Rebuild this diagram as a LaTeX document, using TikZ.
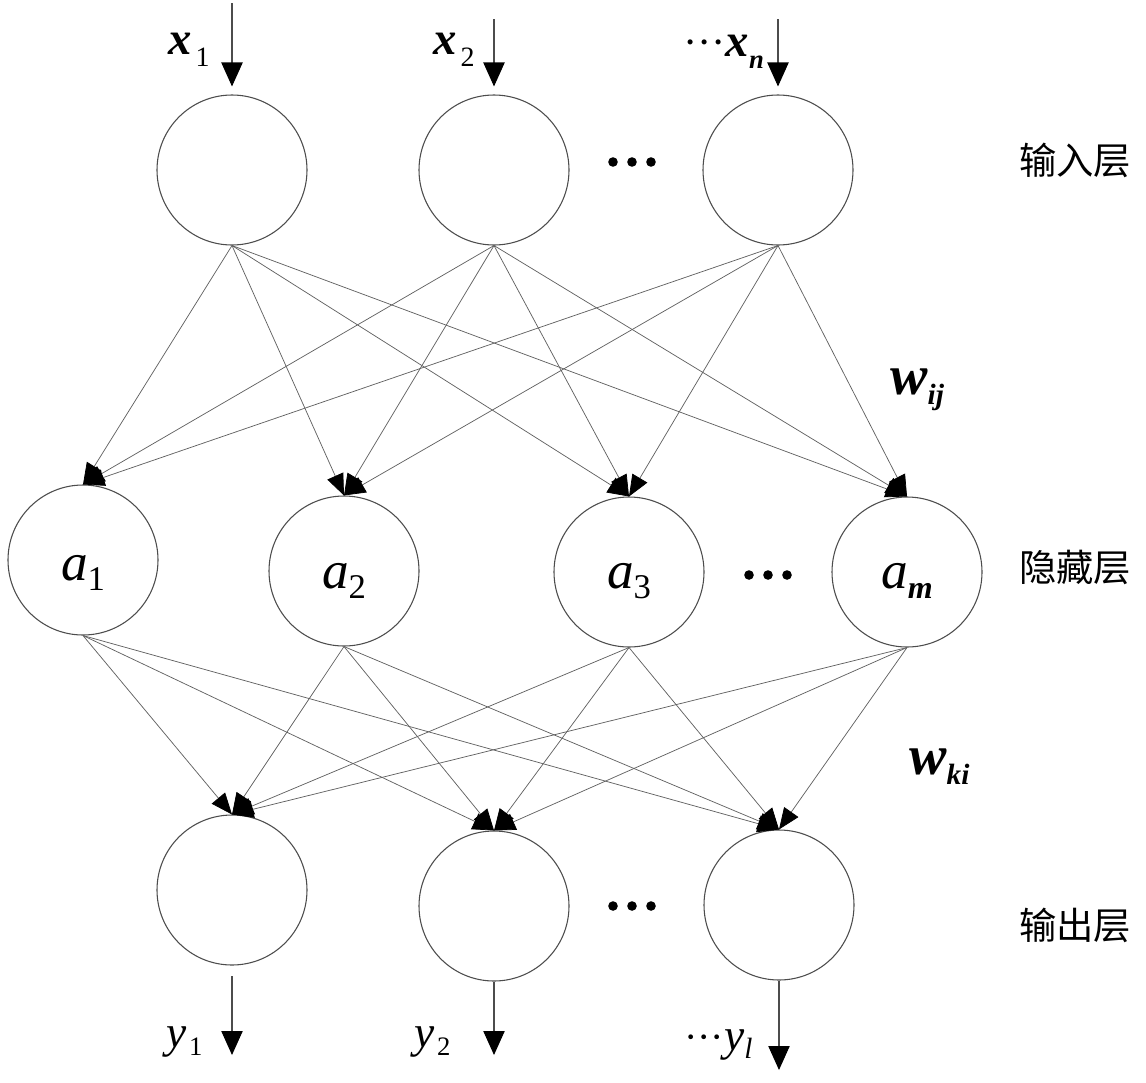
\documentclass[tikz,border=0pt]{standalone}
\usepackage{fontspec}
\setmainfont{Liberation Serif}
\newfontfamily\tms{Liberation Serif}
\newfontfamily\cjk{Noto Sans CJK SC}
\usetikzlibrary{arrows.meta}
\newcommand\bigit[1][36pt]{\tms\fontsize{#1}{#1}\selectfont\itshape}
\newcommand\bigbit[1][36pt]{\tms\fontsize{#1}{#1}\selectfont\bfseries\itshape}
\newcommand\subsz[1]{\tms\fontsize{#1}{#1}\selectfont}
\begin{document}
\begin{tikzpicture}[x=0.75pt,y=-0.75pt,
  neuron/.style={circle, draw=black!70, line width=0.8pt, minimum size=112.5pt, inner sep=0pt},
  conn/.style={draw=black!62, line width=0.55pt, -{Triangle[length=16pt,width=13pt,color=black]}},
  io/.style={draw=black!70, line width=0.8pt, -{Triangle[length=18pt,width=16pt,color=black]}},
  lbl/.style={inner sep=0pt, anchor=base west},
  albl/.style={inner sep=0pt, anchor=base},
  layer/.style={inner sep=0pt, font=\cjk\fontsize{28pt}{28pt}\selectfont},
  dot/.style={fill=black}
]
\useasboundingbox (0,0) rectangle (1146,1082);

% input layer
\node[neuron] (i1) at (232,170) {};
\node[neuron] (i2) at (494,170) {};
\node[neuron] (i3) at (778,170) {};
% hidden layer
\node[neuron] (h1) at (83,560) {};
\node[neuron] (h2) at (344,571) {};
\node[neuron] (h3) at (629,572) {};
\node[neuron] (h4) at (907,572) {};
% output layer
\node[neuron] (o1) at (232,890) {};
\node[neuron] (o2) at (494,906) {};
\node[neuron] (o3) at (779,905) {};

% weights input -> hidden
\foreach \i in {i1,i2,i3}
  \foreach \h in {h1,h2,h3,h4}
    \draw[conn] (\i.south) -- (\h.north);
% weights hidden -> output
\foreach \h in {h1,h2,h3,h4}
  \foreach \o in {o1,o2,o3}
    \draw[conn] (\h.south) -- (\o.north);

% input arrows
\coordinate (x1s) at (232,3);
\coordinate (x2s) at (494,19);
\coordinate (x3s) at (778,19);
\draw[io, shorten >=6pt] (x1s) -- (i1.north);
\draw[io, shorten >=6pt] (x2s) -- (i2.north);
\draw[io, shorten >=6pt] (x3s) -- (i3.north);

% output arrows
\coordinate (y1e) at (232,1055);
\coordinate (y2e) at (494,1055);
\coordinate (y3e) at (779,1070);
\draw[io, shorten <=8pt] (o1.south) -- (y1e);
\draw[io] (o2.south) -- (y2e);
\draw[io] (o3.south) -- (y3e);

% input labels
\node[lbl] (lx1) at (168,54) {\bigbit[35pt]x\kern3pt\raisebox{-9pt}{\subsz{21pt}\mdseries\upshape 1}};
\node[lbl] (lx2) at (433,54) {\bigbit[35pt]x\kern3pt\raisebox{-9pt}{\subsz{21pt}\mdseries\upshape 2}};
\node[lbl] (lx3) at (683,56) {{\bigit[32pt]\upshape\textperiodcentered\textperiodcentered\textperiodcentered}{\bigbit[35pt]x}\raisebox{-9pt}{\subsz{20pt}\bfseries\itshape n}};

% hidden labels
\node[albl] (la1) at (83,580) {\bigit[40pt]a\raisebox{-8pt}{\subsz{26pt}\upshape 1}};
\node[albl] (la2) at (344,588) {\bigit[40pt]a\raisebox{-8pt}{\subsz{26pt}\upshape 2}};
\node[albl] (la3) at (629,588) {\bigit[40pt]a\raisebox{-8pt}{\subsz{26pt}\upshape 3}};
\node[albl] (la4) at (907,588) {\bigit[40pt]a\raisebox{-8pt}{\subsz{24pt}\bfseries\itshape m}};

% output labels
\node[lbl] (ly1) at (166,1047) {\bigit[34pt]y\kern2pt\raisebox{-6pt}{\subsz{20pt}\upshape 1}};
\node[lbl] (ly2) at (414,1047) {\bigit[34pt]y\kern2pt\raisebox{-6pt}{\subsz{20pt}\upshape 2}};
\node[lbl] (ly3) at (684,1050) {{\bigit[30pt]\upshape\textperiodcentered\textperiodcentered\textperiodcentered}{\bigit[34pt]y}\raisebox{-6pt}{\subsz{22pt}\itshape l}};

% weight labels
\node[lbl] (wij) at (890,394) {\bigbit[42pt]w\raisebox{-8pt}{\subsz{22pt}\bfseries\itshape ij}};
\node[lbl] (wki) at (909,774) {\bigbit[42pt]w\raisebox{-8pt}{\subsz{22pt}\bfseries\itshape ki}};

% ellipsis dots
\foreach \xx in {613,632,651} \fill[dot] (\xx,162) circle[radius=3.6pt];
\foreach \xx in {749,768,787} \fill[dot] (\xx,575) circle[radius=3.6pt];
\foreach \xx in {613,632,651} \fill[dot] (\xx,906) circle[radius=3.6pt];

% layer labels
\node[layer] (L1) at (1075,160) {输入层};
\node[layer] (L2) at (1075,567) {隐藏层};
\node[layer] (L3) at (1075,925) {输出层};
\end{tikzpicture}
\end{document}
